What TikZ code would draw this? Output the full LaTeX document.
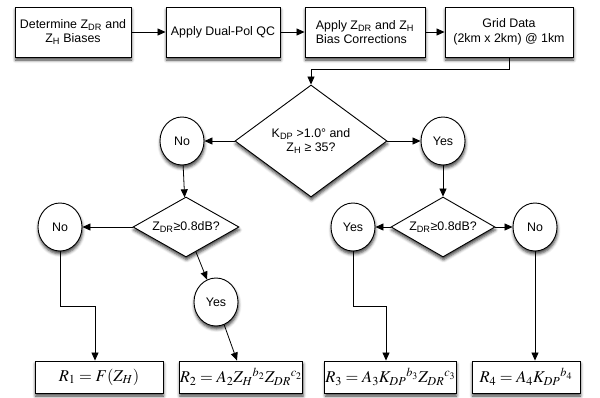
\documentclass[tikz,border=0pt]{standalone}
\usepackage{mathptmx}
\usepackage{fontspec}
\setmainfont{Liberation Sans}
\usetikzlibrary{shapes.geometric,arrows.meta,shadows.blur}
\tikzset{
  shd/.style={blur shadow={shadow xshift=0.5pt, shadow yshift=-3pt, shadow blur radius=3pt, shadow opacity=75}},
  topbox/.style={draw, line width=0.9pt, fill=white, inner sep=1pt, font=\fontsize{12.4}{14.5}\selectfont, shd},
  formbox/.style={draw, line width=0.9pt, fill=white, inner sep=0.5pt, minimum height=32pt, font=\fontsize{16.5}{18}\selectfont, shd},
  dia/.style={draw, line width=0.9pt, fill=white, diamond, inner sep=0pt, font=\fontsize{12.4}{14.5}\selectfont, align=center, shd},
  circ/.style={draw, line width=0.9pt, fill=white, ellipse, inner sep=0pt, minimum width=44pt, minimum height=48pt, font=\fontsize{12.4}{14.5}\selectfont, shd},
  arr/.style={-{Triangle[length=8pt,width=7pt]}, line width=0.8pt},
}
\begin{document}
\begin{tikzpicture}[x=1pt,y=-1pt]
\useasboundingbox (0,0) rectangle (600,397);
% top row
\node[topbox, minimum width=116pt, minimum height=50pt, align=center] (b1) at (73,32) {Determine Z\textsubscript{DR} and\\Z\textsubscript{H} Biases};
\node[topbox, minimum width=114pt, minimum height=50pt, align=center] (b2) at (223,32) {Apply Dual-Pol QC};
\node[topbox, minimum width=120pt, minimum height=50pt, align=left] (b3) at (365,32) {Apply Z\textsubscript{DR} and Z\textsubscript{H}\\Bias Corrections};
\node[topbox, minimum width=128pt, minimum height=50pt, align=center] (b4) at (509,32) {Grid Data\\(2km x 2km) @ 1km};
% main decision
\node[dia, minimum width=152pt, minimum height=112pt, aspect=1.36] (d1) at (311,141) {K\textsubscript{DP} >1.0° and\\Z\textsubscript{H} ≥ 35?};
\node[circ] (no1) at (182,141) {No};
\node[circ] (yes1) at (443,141) {Yes};
% second decisions
\node[dia, minimum width=106pt, minimum height=60pt, aspect=1.77] (d2) at (186,227) {Z\textsubscript{DR}≥0.8dB?};
\node[dia, minimum width=104pt, minimum height=60pt, aspect=1.73] (d3) at (443,227) {Z\textsubscript{DR}≥0.8dB?};
\node[circ] (no2) at (60,227) {No};
\node[circ] (yes2) at (216,302) {Yes};
\node[circ] (yes3) at (353,227) {Yes};
\node[circ] (no3) at (535,227) {No};
% results
\node[formbox, minimum width=128pt] (r1) at (99,377) {$R_1 = F(Z_H)$};
\node[formbox, minimum width=122pt] (r2) at (241,377) {$R_2 = A_2 Z_H{}^{b_2} Z_{DR}{}^{c_2}$};
\node[formbox, minimum width=127pt] (r3) at (390.5,377) {$R_3 = A_3 K_{DP}{}^{b_3} Z_{DR}{}^{c_3}$};
\node[formbox, minimum width=108pt] (r4) at (526,377) {$R_4 = A_4 K_{DP}{}^{b_4}$};
% connectors
\draw[arr] (b1) -- (b2);
\draw[arr] (b2) -- (b3);
\draw[arr] (b3) -- (b4);
\draw[arr] (b4.south) -- ++(0,12) -| (d1.north);
\draw[arr] (d1) -- (no1);
\draw[arr] (d1) -- (yes1);
\draw[arr] (no1) -- (d2);
\draw[arr] (yes1) -- (d3);
\draw[arr] (d2) -- (no2);
\draw[arr] (d2) -- (yes2);
\draw[arr] (d3) -- (yes3);
\draw[arr] (d3) -- (no3);
\draw[arr] (no2.south) -- ++(0,55) -| ([xshift=-4pt]r1.north);
\draw[arr] (yes2) -- ([xshift=-4pt]r2.north);
\draw[arr] (yes3.south) -- ++(0,55) -| ([xshift=-4.5pt]r3.north);
\draw[arr] (no3.south) -- (no3.south |- r4.north);
\end{tikzpicture}
\end{document}
